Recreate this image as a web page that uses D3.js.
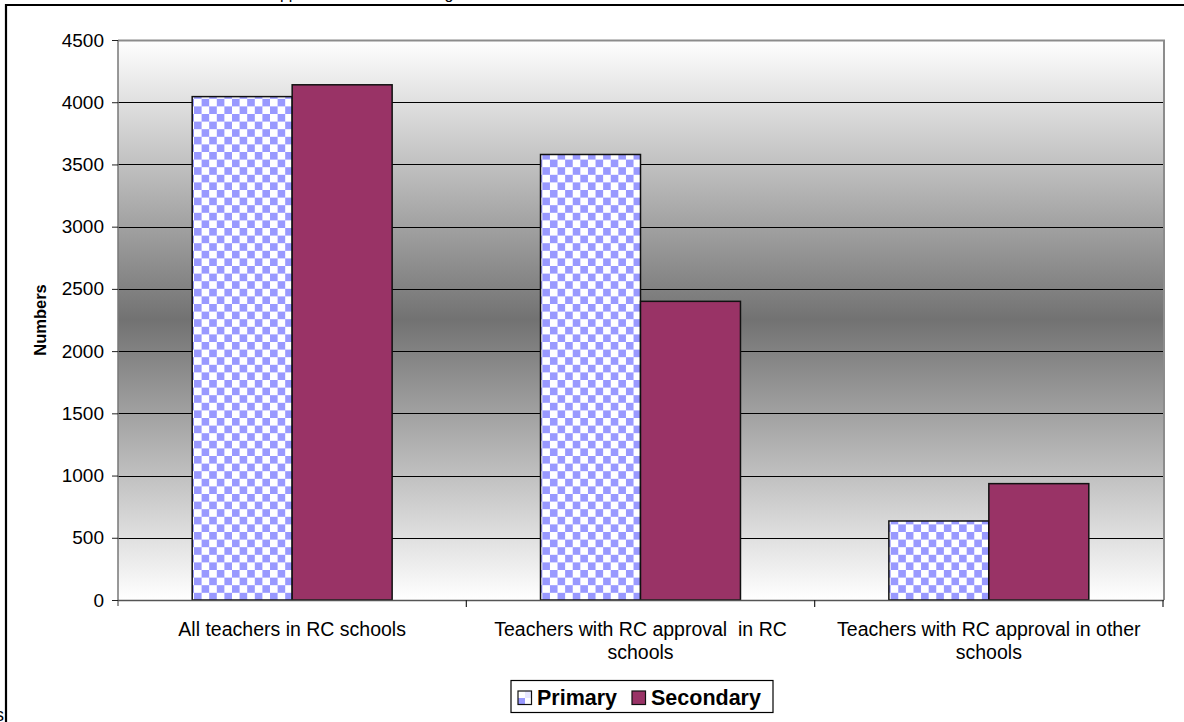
<!DOCTYPE html>
<html>
<head>
<meta charset="utf-8">
<script src="https://cdn.jsdelivr.net/npm/d3@7/dist/d3.min.js"></script>
<style>
  html, body { margin: 0; padding: 0; background: #fff; }
  svg { display: block; font-family: "Liberation Sans", Arial, sans-serif; }
</style>
</head>
<body>
<svg id="chart" width="1184" height="722"></svg>
<script>
// Teachers by category, primary vs secondary
const categories = [
  ["All teachers in RC schools"],
  ["Teachers with RC approval  in RC", "schools"],
  ["Teachers with RC approval in other", "schools"]
];
const seriesNames = ["Primary", "Secondary"];
const primaryValues = [4045, 3580, 635];
const secondaryValues = [4140, 2400, 935];
const yTicks = [0, 500, 1000, 1500, 2000, 2500, 3000, 3500, 4000, 4500];

const svg = d3.select("#chart");
const W = 1184, H = 722;
const plot = { left: 118, right: 1163, top: 40, bottom: 600 };

const defs = svg.append("defs");

// background shading of the plot area
const grad = defs.append("linearGradient")
  .attr("id", "plotShade").attr("x1", 0).attr("y1", 0).attr("x2", 0).attr("y2", 1);
grad.append("stop").attr("offset", "0%").attr("stop-color", "#ffffff");
grad.append("stop").attr("offset", "50%").attr("stop-color", "#727272");
grad.append("stop").attr("offset", "100%").attr("stop-color", "#ffffff");

// checkerboard fill for the primary series
const cell = 7.6;
const pat = defs.append("pattern")
  .attr("id", "checker").attr("patternUnits", "userSpaceOnUse")
  .attr("width", cell * 2).attr("height", cell * 2);
pat.append("rect").attr("width", cell * 2).attr("height", cell * 2).attr("fill", "#ffffff");
pat.append("rect").attr("width", cell).attr("height", cell).attr("fill", "#9999ff");
pat.append("rect").attr("x", cell).attr("y", cell).attr("width", cell).attr("height", cell).attr("fill", "#9999ff");

const legendPat = defs.append("pattern")
  .attr("id", "checkerSmall").attr("patternUnits", "userSpaceOnUse")
  .attr("width", 14).attr("height", 14).attr("x", 518).attr("y", 691);
legendPat.append("rect").attr("width", 14).attr("height", 14).attr("fill", "#ffffff");
legendPat.append("rect").attr("y", 7).attr("width", 7).attr("height", 7).attr("fill", "#9999ff");
legendPat.append("rect").attr("x", 7).attr("width", 7).attr("height", 7).attr("fill", "#e8e8ff");

// page text partly outside the frame
svg.append("text").attr("x", 271).attr("y", -0.8).attr("font-size", 16).attr("fill", "#000")
  .text("approval in RC schools: grades");
svg.append("text").attr("x", -5).attr("y", 721).attr("font-size", 18).attr("fill", "#000").text("s");

// scales
const x0 = d3.scaleBand().domain(d3.range(categories.length)).range([plot.left, plot.right]).padding(0);
const x1 = d3.scaleBand().domain(seriesNames)
  .range([x0.bandwidth() * 0.213, x0.bandwidth() * 0.787]).padding(0);
const y = d3.scaleLinear().domain([0, 4500]).range([plot.bottom, plot.top]);

// plot background
svg.append("rect")
  .attr("x", plot.left).attr("y", plot.top)
  .attr("width", plot.right - plot.left).attr("height", plot.bottom - plot.top)
  .attr("fill", "url(#plotShade)");

// gridlines
svg.append("g").selectAll("line")
  .data(yTicks.filter(d => d > 0 && d < 4500))
  .join("line")
  .attr("x1", plot.left).attr("x2", plot.right)
  .attr("y1", d => Math.round(y(d)) + 0.5).attr("y2", d => Math.round(y(d)) + 0.5)
  .attr("stroke", "#000").attr("stroke-width", 1);

// plot border (top and right)
svg.append("path")
  .attr("d", `M${plot.left},${plot.top + 0.5}H${plot.right + 1}V${plot.bottom}`)
  .attr("fill", "none").attr("stroke", "#8c8c8c").attr("stroke-width", 2);

// bars
const data = categories.map((c, i) => ({ i, values: [
  { s: "Primary", v: primaryValues[i] },
  { s: "Secondary", v: secondaryValues[i] }
] }));

const groups = svg.append("g").selectAll("g")
  .data(data).join("g")
  .attr("transform", d => `translate(${x0(d.i)},0)`);

groups.selectAll("rect")
  .data(d => d.values).join("rect")
  .attr("x", d => x1(d.s))
  .attr("y", d => y(d.v))
  .attr("width", x1.bandwidth())
  .attr("height", d => y(0) - y(d.v))
  .attr("fill", d => d.s === "Primary" ? "url(#checker)" : "#993366")
  .attr("stroke", "#111").attr("stroke-width", 1.5);

// y axis
const yAxis = d3.axisLeft(y).tickValues(yTicks).tickSize(6).tickPadding(8).tickFormat(d3.format("d"));
const gy = svg.append("g").attr("transform", `translate(${plot.left},0)`).call(yAxis);
gy.select(".domain").attr("stroke", "#777").attr("stroke-width", 1.5)
  .attr("d", `M0,${plot.top}V${plot.bottom + 6}`);
gy.selectAll(".tick line").attr("stroke", "#222");
gy.selectAll(".tick text").attr("font-size", 19).attr("fill", "#000")
  .attr("font-family", "Liberation Sans, Arial, sans-serif");

// x axis line and category boundary ticks
const boundaries = d3.range(categories.length + 1).map(i =>
  i < categories.length ? x0(i) : x0(categories.length - 1) + x0.bandwidth());
svg.append("line")
  .attr("x1", plot.left).attr("x2", plot.right + 1)
  .attr("y1", plot.bottom + 0.5).attr("y2", plot.bottom + 0.5)
  .attr("stroke", "#555").attr("stroke-width", 1.5);
svg.append("g").selectAll("line")
  .data(boundaries.slice(1)).join("line")
  .attr("x1", d => d).attr("x2", d => d)
  .attr("y1", plot.bottom).attr("y2", plot.bottom + 7)
  .attr("stroke", "#222").attr("stroke-width", 1.2);

// category labels
const catText = svg.append("g").selectAll("text")
  .data(categories).join("text")
  .attr("text-anchor", "middle")
  .attr("font-size", 19.5).attr("fill", "#000")
  .style("white-space", "pre");
catText.each(function (lines, i) {
  d3.select(this).selectAll("tspan").data(lines).join("tspan")
    .attr("x", x0(i) + x0.bandwidth() / 2)
    .attr("y", (d, k) => 636 + k * 23)
    .text(d => d);
});

// y axis title
svg.append("text")
  .attr("transform", `translate(46,${(plot.top + plot.bottom) / 2}) rotate(-90)`)
  .attr("text-anchor", "middle")
  .attr("font-size", 16.5).attr("font-weight", "bold")
  .text("Numbers");

// legend
const lg = svg.append("g");
lg.append("rect").attr("x", 511).attr("y", 680.5).attr("width", 262).attr("height", 32)
  .attr("fill", "#fff").attr("stroke", "#000").attr("stroke-width", 1.2);
const legendItems = [
  { name: seriesNames[0], fill: "url(#checkerSmall)", sx: 518, tx: 537 },
  { name: seriesNames[1], fill: "#993366", sx: 632, tx: 651 }
];
lg.selectAll("rect.sw").data(legendItems).join("rect").attr("class", "sw")
  .attr("x", d => d.sx).attr("y", 691).attr("width", 13.5).attr("height", 13.5)
  .attr("fill", d => d.fill).attr("stroke", "#111").attr("stroke-width", 1.2);
lg.selectAll("text").data(legendItems).join("text")
  .attr("x", d => d.tx).attr("y", 705)
  .attr("font-size", 21.5).attr("font-weight", "bold")
  .text(d => d.name);

// outer frame
svg.append("path")
  .attr("d", `M6,${H}V5H${W}`)
  .attr("fill", "none").attr("stroke", "#000").attr("stroke-width", 2.2);
</script>
</body>
</html>
